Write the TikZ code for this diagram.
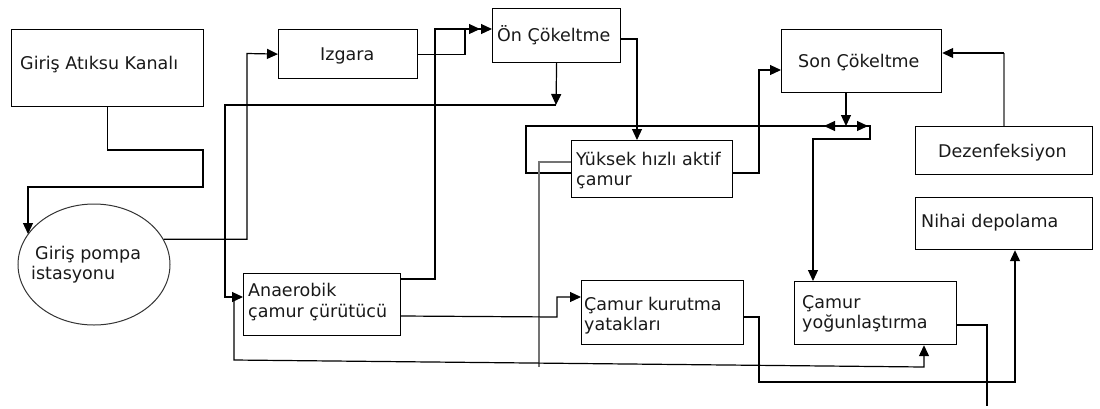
\documentclass[tikz,border=0pt]{standalone}
\usepackage{fontspec}
\setmainfont{DejaVu Sans}
\usetikzlibrary{arrows.meta,shapes.geometric,calc}
\begin{document}
\begin{tikzpicture}[x=1pt,y=-1pt,
  box/.style={draw, line width=1.2pt, inner sep=0pt, anchor=north west},
  lbl/.style={anchor=base west, inner sep=0pt, text=black!90,
              font=\fontsize{17.5}{20}\selectfont},
  wire/.style={line width=1.2pt},
  grey wire/.style={line width=1.5pt, draw=black!55},
  arr/.style={wire, -{Triangle[length=11pt,width=10pt]}},
]
\useasboundingbox (0,0) rectangle (1100,408);

% process units
\node[box, minimum width=192pt, minimum height=77pt] (kanal)  at (11,29)  {};
\node[box, minimum width=139pt, minimum height=49pt] (izgara) at (278,29) {};
\node[box, minimum width=128pt, minimum height=54pt] (onc)    at (492,8)  {};
\node[box, minimum width=160pt, minimum height=63pt] (son)    at (781,29) {};
\node[box, minimum width=177pt, minimum height=48pt] (dez)    at (915,126) {};
\node[box, minimum width=177pt, minimum height=52pt] (nihai)  at (915,197) {};
\node[box, minimum width=162pt, minimum height=63pt] (yog)    at (794,281) {};
\node[box, minimum width=162pt, minimum height=64pt] (kurut)  at (581,280) {};
\node[box, minimum width=157pt, minimum height=62pt] (anae)   at (243,273) {};
\node[box, minimum width=161pt, minimum height=57pt] (yuksek) at (571,140) {};
\node[draw=black!80, line width=1pt, ellipse, inner sep=0pt,
      minimum width=152pt, minimum height=121pt] (pompa) at (94,264.5) {};

% labels
\node[lbl] (t-kanal)  at (20,69)   {Giriş Atıksu Kanalı};
\node[lbl] (t-izgara) at (320,60)  {Izgara};
\node[lbl] (t-onc)    at (497,41)  {Ön Çökeltme};
\node[lbl] (t-son)    at (798,67)  {Son Çökeltme};
\node[lbl] (t-dez)    at (938,157) {Dezenfeksiyon};
\node[lbl] (t-nihai)  at (921,227) {Nihai depolama};
\node[lbl] (t-yog1)   at (802,308) {Çamur};
\node[lbl] (t-yog2)   at (802,328) {yoğunlaştırma};
\node[lbl] (t-kur1)   at (584,310) {Çamur kurutma};
\node[lbl] (t-kur2)   at (584,330) {yatakları};
\node[lbl] (t-ana1)   at (248,296) {Anaerobik};
\node[lbl] (t-ana2)   at (248,317) {çamur çürütücü};
\node[lbl] (t-yuk1)   at (576,165) {Yüksek hızlı aktif};
\node[lbl] (t-yuk2)   at (576,185) {çamur};
\node[lbl] (t-pom1)   at (35,259)  {Giriş pompa};
\node[lbl] (t-pom2)   at (31,279)  {istasyonu};

% junction points
\coordinate (j1) at (556,105);
\coordinate (j2) at (846,126);

% main line
\draw[arr] (kanal.south) |- (203,150) |- (28,187) -- (28,234);
\draw[arr] (pompa.20) -| (247,53.5) -- (izgara.west);
\draw[arr] (izgara.east) -| (465,29) -- (onc.west |- 0,29);
\draw[arr] (anae.east |- 0,279) -| (435,29) -- (480,29);
\draw[arr] (onc.south) -- (j1);
\draw[arr] (j1) -| (225,297) -- (anae.west |- 0,297);
\draw[arr] (onc.east |- 0,39) -| (yuksek.north -| 637,0);
\draw[arr] (yuksek.east |- 0,173) -| (759,70) -- (son.west |- 0,70);

% return sludge and excess sludge
\draw[arr] (son.south -| j2) -- (j2);
\draw[wire] (j2) -- (526,126) |- (yuksek.west |- 0,173);
\draw[arr] (j2) -- (824,126);
\draw[arr] (j2) -- (868,126);
\draw[arr] (866,126) -- (870,126) -- (870,139) -| (yog.north -| 813,0);
\draw[grey wire] (yuksek.west |- 0,162) -| (539,367);

% sludge line
\draw[arr] (anae.east |- 0,316) -- (557,317) |- (kurut.west |- 0,297);
\draw[arr] (234,297) -- (234,360) -- (924,367) -- (yog.south -| 924,0);
\draw[arr] (kurut.east |- 0,317) -| (759,382) -| (nihai.south -| 1015,0);
\draw[wire] (yog.east |- 0,325) -| (987,406);

% disinfection
\draw[grey wire] (dez.north) -- (dez.north |- 0,53);
\draw[arr] (dez.north |- 0,53) -- (son.east |- 0,53);
\end{tikzpicture}
\end{document}
